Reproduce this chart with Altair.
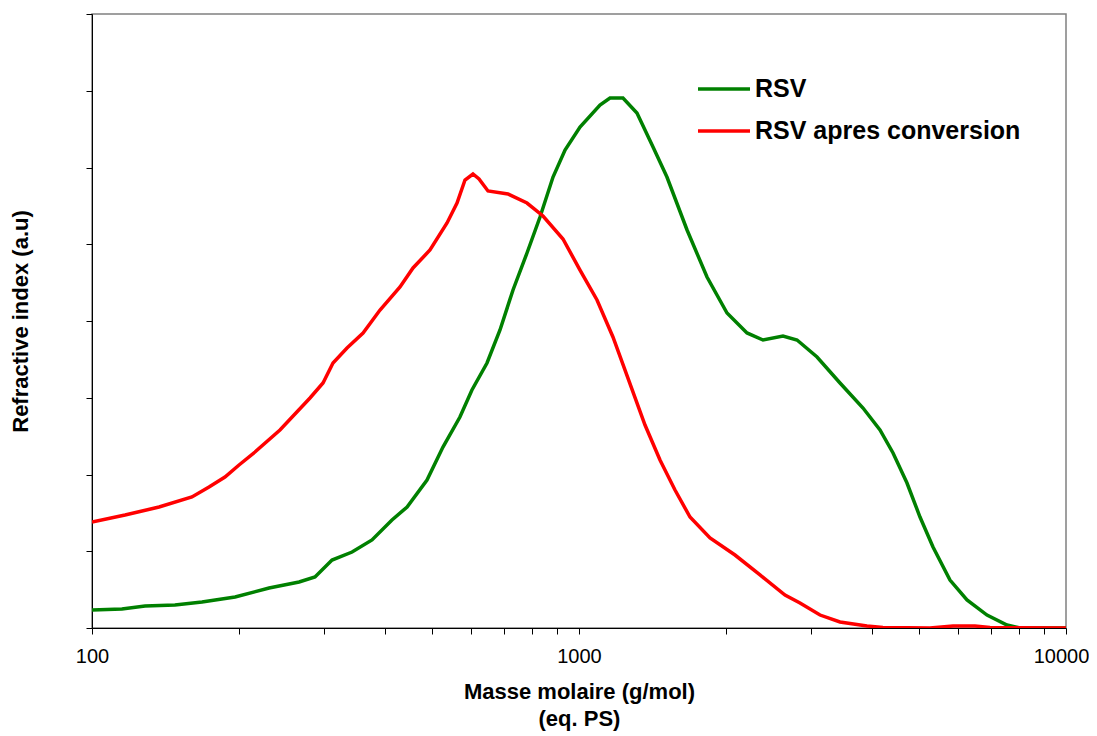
import altair as alt
import pandas as pd

# Green curve: RSV
rsv_mass = [100, 115.2, 128.5, 148.0, 168.2, 196.7, 231.0, 266.2, 287.0, 311.1, 342.0, 375.8,
            413.0, 443.6, 487.4, 525.6, 569.5, 602.8, 647.3, 688.3, 732.0, 782.0, 831.7,
            884.4, 936.1, 1004.8, 1104.3, 1157.7, 1231.1, 1315.3, 1419.1, 1515.6, 1666.8,
            1831.6, 2013.4, 2213.1, 2387.0, 2623.6, 2803.6, 3081.7, 3435.3, 3830, 4150,
            4414, 4715, 5014, 5332, 5778, 6262, 6883, 7566, 8043, 10000]
rsv_ri = [0.235, 0.248, 0.287, 0.300, 0.339, 0.404, 0.521, 0.599, 0.665, 0.886, 0.990, 1.147,
          1.407, 1.577, 1.928, 2.358, 2.749, 3.101, 3.453, 3.883, 4.404, 4.886, 5.355,
          5.876, 6.228, 6.528, 6.814, 6.906, 6.906, 6.710, 6.267, 5.876, 5.186,
          4.573, 4.104, 3.844, 3.752, 3.805, 3.752, 3.531, 3.192, 2.866, 2.580,
          2.280, 1.889, 1.446, 1.055, 0.625, 0.365, 0.169, 0.039, 0.0, 0.0]

# Red curve: RSV apres conversion
conv_mass = [100, 116.9, 137.3, 160.4, 173.9, 187.5, 200.4, 216.1, 243.2, 280.3, 298.1, 312.5,
             333.9, 360.2, 390.3, 429.0, 456.2, 494.3, 535.8, 561.7, 583.3, 605.7, 623.3,
             650.3, 714.8, 782.0, 843.5, 927.1, 1004.8, 1088.9, 1174.1, 1260.4, 1366.3,
             1466.6, 1574.5, 1690.1, 1857.9, 2090.8, 2353.3, 2648.5, 2843, 3125.6, 3435.3,
             3903, 4209, 5256, 5861, 6503, 6981, 10000]
conv_ri = [1.381, 1.472, 1.577, 1.707, 1.837, 1.967, 2.124, 2.293, 2.580, 2.997, 3.192, 3.453,
           3.648, 3.844, 4.143, 4.443, 4.691, 4.925, 5.277, 5.537, 5.837, 5.915, 5.850,
           5.694, 5.655, 5.537, 5.368, 5.068, 4.664, 4.274, 3.792, 3.257, 2.645,
           2.189, 1.798, 1.446, 1.173, 0.951, 0.691, 0.430, 0.326, 0.169, 0.078,
           0.026, 0.007, 0.0, 0.026, 0.026, 0.007, 0.0]

series_names = ["RSV", "RSV apres conversion"]
series_colors = ["#008000", "#FF0000"]

x_ticks = [100, 200, 300, 400, 500, 600, 700, 800, 900,
           1000, 2000, 3000, 4000, 5000, 6000, 7000, 8000, 9000, 10000]
y_ticks = [0, 1, 2, 3, 4, 5, 6, 7, 8]

df = pd.concat([
    pd.DataFrame({"mass": rsv_mass, "ri": rsv_ri, "serie": series_names[0], "o": range(len(rsv_mass))}),
    pd.DataFrame({"mass": conv_mass, "ri": conv_ri, "serie": series_names[1], "o": range(len(conv_mass))}),
])

FONT = "Liberation Sans"

chart = alt.Chart(df).mark_line(strokeWidth=3.5, clip=True).encode(
    x=alt.X("mass:Q",
            scale=alt.Scale(type="log", domain=[100, 10000], nice=False),
            axis=alt.Axis(values=x_ticks,
                          labelExpr="(datum.value == 100 || datum.value == 1000 || datum.value == 10000) ? datum.label : ''",
                          format="d",
                          grid=False, domainColor="black", tickColor="black", tickSize=6,
                          labelFont=FONT, labelFontSize=20, labelColor="black", labelPadding=12,
                          labelFlush=False, labelOverlap=False,
                          labelOffset={"condition": {"test": "datum.value == 10000", "value": -5}, "value": 0},
                          title=["Masse molaire (g/mol)", "(eq. PS)"],
                          titleFont=FONT, titleFontSize=22, titleFontWeight="bold", titleColor="black",
                          titleLineHeight=27, titlePadding=15)),
    y=alt.Y("ri:Q",
            scale=alt.Scale(domain=[0, 8], nice=False),
            axis=alt.Axis(values=y_ticks, labels=False, grid=False,
                          domainColor="black", tickColor="black", tickSize=6,
                          title="Refractive index (a.u)",
                          titleFont=FONT, titleFontSize=22, titleFontWeight="bold", titleColor="black",
                          titlePadding=53)),
    color=alt.Color("serie:N",
                    scale=alt.Scale(domain=series_names, range=series_colors),
                    legend=alt.Legend(title=None, orient="none", legendX=604, legendY=47,
                                      symbolType="stroke", symbolSize=2704, symbolStrokeWidth=3.5,
                                      labelFont=FONT, labelFontSize=25, labelFontWeight="bold",
                                      labelColor="black", rowPadding=1, padding=0, labelOffset=3,
                                      labelLimit=500)),
    detail="serie:N",
    order="o:Q",
).properties(
    width=974, height=614,
    autosize=alt.AutoSizeParams(type="none"),
    padding={"left": 84, "top": 6, "right": 23, "bottom": 106},
).configure_view(stroke="#808080", strokeWidth=1.5)

chart.save("out.html", embed_options={"renderer": "svg", "actions": False})
